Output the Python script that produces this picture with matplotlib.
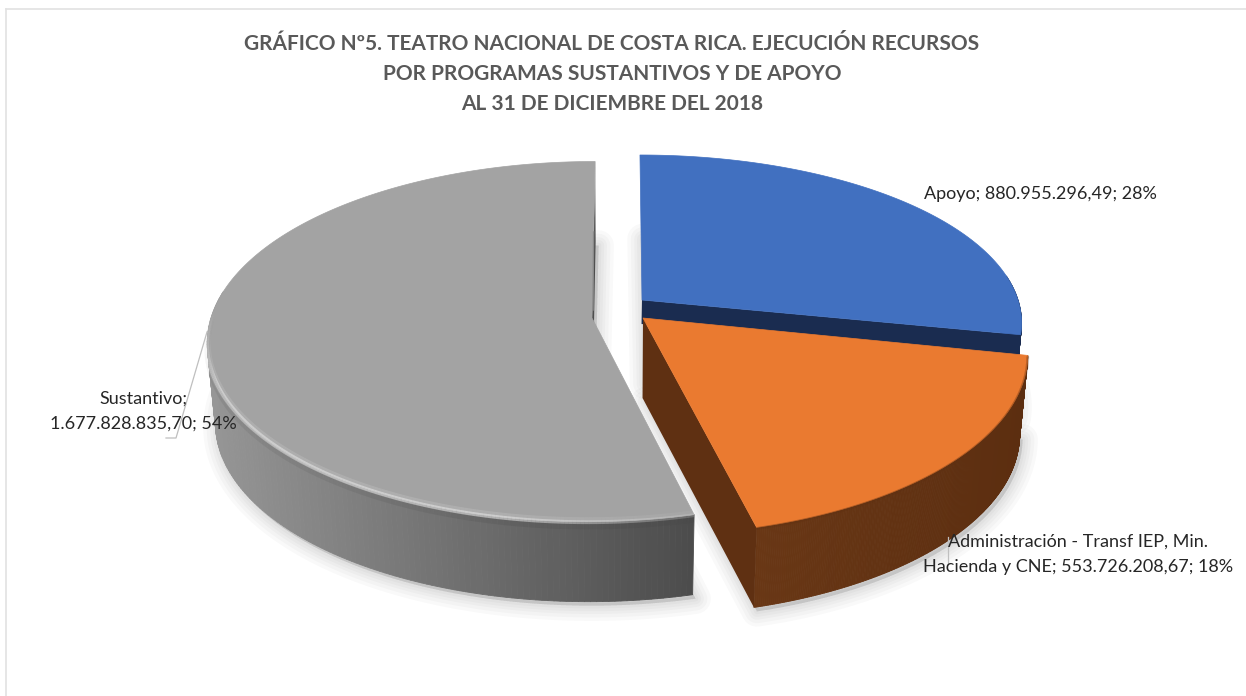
#!/usr/bin/env python
# -*- coding: utf-8 -*-
import numpy as np
import matplotlib
matplotlib.use("Agg")
import matplotlib.pyplot as plt
from matplotlib.collections import PolyCollection, LineCollection
from matplotlib.colors import to_rgb

# data
categories = ["Apoyo", "Administración - Transf IEP, Min.\nHacienda y CNE", "Sustantivo"]
values = [880955296.49, 553726208.67, 1677828835.70]
title = ("GRÁFICO Nº5. TEATRO NACIONAL DE COSTA RICA. EJECUCIÓN RECURSOS\n"
         "POR PROGRAMAS SUSTANTIVOS Y DE APOYO\n"
         "AL 31 DE DICIEMBRE DEL 2018")

# look of each slice: top face, cut face, wall colours left -> right
top_colors = ["#4170c0", "#ea7a30", "#a3a3a3"]
cut_colors = ["#1a2c50", "#5f3012", "#4d4d4d"]
wall_colors = [("#24407a", "#1a2c50"), ("#693715", "#5c2e10"), ("#969696", "#4c4c4c")]

# geometry of the exploded slices in pixels: apex x/y, radius x, radius y, perspective, skew
geom = [
    (642, 300, 376, 164, 0.131, 0.014),
    (643, 318, 377, 174, 0.200, 0.000),
    (592, 318, 381, 177, 0.131, -0.020),
]
cut_depth = [24, 80, 80]
DEPTH = 80
VANISH_X = 620
SHRINK = 0.98

plt.rcParams["font.family"] = ["Lato", "DejaVu Sans"]

fig = plt.figure(figsize=(12.46, 6.96), dpi=100)
ax = fig.add_axes([0, 0, 1, 1])
ax.set_xlim(0, 1246)
ax.set_ylim(696, 0)
ax.axis("off")


def project(i, theta, r=1.0):
    ax0, ay0, rx, ry, k, skew = geom[i]
    x = r * np.sin(theta)
    y = -r * np.cos(theta)
    d = 1 - k * y
    dx = rx * x / d
    dy = ry * y / d
    return ax0 + dx + skew * dy, ay0 + dy


def lower(sx, sy, depth=DEPTH):
    return VANISH_X + (np.asarray(sx) - VANISH_X) * SHRINK, np.asarray(sy) + depth


def mix(c1, c2, t):
    c1, c2 = np.array(to_rgb(c1)), np.array(to_rgb(c2))
    return c1 + (c2 - c1) * t


shares = np.array(values) / sum(values)
edges = np.concatenate([[0], np.cumsum(shares)]) * 2 * np.pi

# chart border
ax.plot([6, 6], [9, 696], color="#e2e2e2", lw=1.2)
ax.plot([6, 1246], [9, 9], color="#e2e2e2", lw=1.2)

# soft shadows under the slices
for i in range(3):
    th = np.linspace(edges[i], edges[i + 1], 160)
    sx, sy = project(i, th)
    bx, by = lower(sx, sy)
    px = np.r_[geom[i][0], bx]
    py = np.r_[geom[i][1] + DEPTH, by]
    for w in [22, 17, 12, 8, 4]:
        ax.fill(px + 3, py + 4, facecolor="#000000", edgecolor="#000000",
                lw=w, alpha=0.022, joinstyle="round", zorder=1)


def draw_slice(i, z):
    th = np.linspace(edges[i], edges[i + 1], 240)
    sx, sy = project(i, th)
    bx, by = lower(sx, sy)
    x0, y0 = geom[i][0], geom[i][1]

    # outer wall, one quad per step so the colour can run across it
    quads, cols = [], []
    lo, hi = sx.min(), sx.max()
    for n in range(len(th) - 1):
        if -np.cos(th[n]) < -0.15:
            continue  # back of the slice, hidden by the top face
        quads.append([(sx[n], sy[n]), (sx[n + 1], sy[n + 1]), (bx[n + 1], by[n + 1]), (bx[n], by[n])])
        t = (sx[n] - lo) / (hi - lo)
        cols.append(mix(wall_colors[i][0], wall_colors[i][1], t))
    ax.add_collection(PolyCollection(quads, facecolors=cols, edgecolors=cols, linewidths=0.6, zorder=z))

    # cut face at the end of the slice
    ex, ey = lower(sx[-1], sy[-1], cut_depth[i])
    b0x, b0y = lower(x0, y0, cut_depth[i])
    ax.fill([x0, sx[-1], ex, b0x], [y0, sy[-1], ey, b0y], color=cut_colors[i], lw=0, zorder=z + 0.1)

    # top face
    ax.fill(np.r_[x0, sx], np.r_[y0, sy], color=top_colors[i], lw=0.5, zorder=z + 0.2)
    return sx, sy


def edge_glow(sx, sy, color, alphas, lw, z):
    segs = [[(sx[n], sy[n]), (sx[n + 1], sy[n + 1])] for n in range(len(sx) - 1)]
    rgb = to_rgb(color)
    cols = [(*rgb, a) for a in alphas]
    ax.add_collection(LineCollection(segs, colors=cols, linewidths=lw, zorder=z, capstyle="butt"))


# blue first, it sits behind the orange one
draw_slice(0, 2)
draw_slice(2, 3)
sxo, syo = draw_slice(1, 4)

# rim light on the gray slice and soft rim on the orange one
th_g = np.linspace(edges[2], edges[2] + 0.55 * (edges[3] - edges[2]), 200)
gx, gy = project(2, th_g)
pos = np.linspace(0, 1, len(th_g) - 1)
fade = np.clip(pos / 0.35 + 0.35, 0, 1) * np.clip((1 - pos) / 0.2, 0, 1)
edge_glow(gx, gy - 1, "#ffffff", 0.12 * fade, 5.0, 3.5)
edge_glow(gx, gy + 0.5, "#ffffff", 0.40 * fade, 2.8, 3.5)
edge_glow(gx, gy + 5, "#000000", 0.06 * fade, 4.0, 3.5)
edge_glow(sxo, syo + 1, "#5f3012", 0.35 * np.ones(len(sxo) - 1), 2.0, 4.5)

# thin dark line on the back edge of the gray slice
ax.plot([geom[2][0] + 1, geom[2][0] + 1.6], [geom[2][1] - 8, 232], color="#8a8a8a", lw=1.0, zorder=3.4)

# leader lines
ax.plot([207, 176, 166], [332, 438, 438], color="#bfbfbf", lw=0.9, zorder=6)
ax.plot([948, 948], [537, 563], color="#bfbfbf", lw=0.9, zorder=6)

# data labels
label_color = "#262626"


def money(v):
    return f"{v:,.2f}".replace(",", "X").replace(".", ",").replace("X", ".")


labels = [
    f"{categories[0]}; {money(values[0])}; {shares[0] * 100:.0f}%",
    f"{categories[1]}; {money(values[1])}; {shares[1] * 100:.0f}%",
    f"{categories[2]};\n{money(values[2])}; {shares[2] * 100:.0f}%",
]
ax.text(1040, 194, labels[0], ha="center", va="center", fontsize=13, color=label_color, zorder=7)
ax.text(1078, 554, labels[1], ha="center", va="center", fontsize=13, color=label_color, linespacing=1.7, zorder=7)
ax.text(143, 411, labels[2], ha="center", va="center", fontsize=13, color=label_color, linespacing=1.7, zorder=7)

ax.text(612, 74, title, ha="center", va="center", fontsize=15, fontweight="bold",
        color="#595959", linespacing=1.6, zorder=7)

fig.savefig("out.png", dpi=100)
